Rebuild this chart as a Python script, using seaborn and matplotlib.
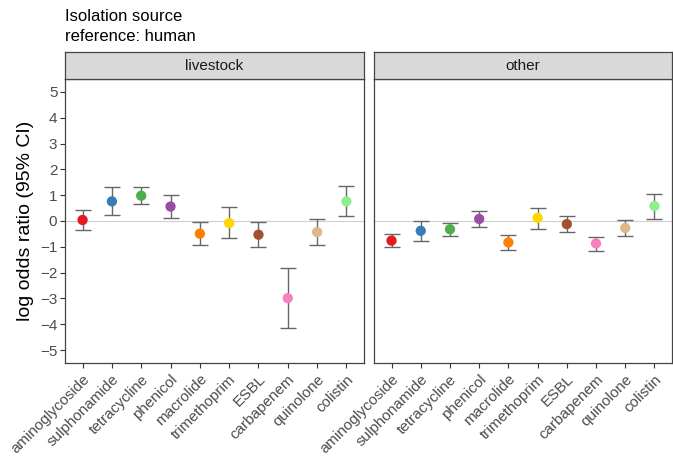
import matplotlib
matplotlib.use("Agg")
import matplotlib.pyplot as plt
import numpy as np
import pandas as pd
import seaborn as sns

# ---- data ----
drugs = ["aminoglycoside", "sulphonamide", "tetracycline", "phenicol", "macrolide",
         "trimethoprim", "ESBL", "carbapenem", "quinolone", "colistin"]
colors = ["#E41A1C", "#377EB8", "#4DAF4A", "#984EA3", "#FF7F00",
          "#FFD700", "#A0522D", "#F781BF", "#DEB887", "#90EE90"]
panels = ["livestock", "other"]

livestock_est = [0.04, 0.76, 0.98, 0.56, -0.49, -0.08, -0.53, -2.99, -0.43, 0.76]
livestock_lo = [-0.34, 0.22, 0.66, 0.12, -0.94, -0.66, -1.02, -4.14, -0.94, 0.18]
livestock_hi = [0.44, 1.31, 1.31, 1.01, -0.04, 0.53, -0.04, -1.82, 0.08, 1.35]

other_est = [-0.76, -0.38, -0.32, 0.08, -0.83, 0.12, -0.12, -0.87, -0.27, 0.58]
other_lo = [-1.02, -0.76, -0.58, -0.22, -1.11, -0.30, -0.43, -1.15, -0.58, 0.09]
other_hi = [-0.49, 0.01, -0.08, 0.39, -0.54, 0.50, 0.18, -0.61, 0.04, 1.05]

frames = []
for name, est, lo, hi in [("livestock", livestock_est, livestock_lo, livestock_hi),
                          ("other", other_est, other_lo, other_hi)]:
    frames.append(pd.DataFrame({"source": name, "drug": drugs, "est": est, "lo": lo, "hi": hi}))
df = pd.concat(frames, ignore_index=True)

sns.set_theme(style="white")
plt.rcParams["font.family"] = ["Liberation Sans", "DejaVu Sans"]

fig = plt.figure(figsize=(6.73, 4.57), dpi=100)

W, H = 673, 457
def box(x0, y0, x1, y1):
    return [x0 / W, 1 - y1 / H, (x1 - x0) / W, (y1 - y0) / H]

panel_x = [(65, 364), (374, 672)]
border = "#444444"
palette = dict(zip(drugs, colors))

for i, (name, (x0, x1)) in enumerate(zip(panels, panel_x)):
    ax = fig.add_axes(box(x0, 79, x1, 363))
    sub = df[df["source"] == name]
    ax.axhline(0, color="#CFCFCF", lw=0.8, zorder=1)
    pos = np.arange(len(drugs))
    ax.errorbar(pos, sub["est"], yerr=[sub["est"] - sub["lo"], sub["hi"] - sub["est"]],
                fmt="none", ecolor="#666666", elinewidth=1.0, capsize=6, capthick=1.0, zorder=2)
    sns.scatterplot(data=sub, x="drug", y="est", hue="drug", palette=palette, s=55,
                    edgecolor="none", legend=False, ax=ax, zorder=3)
    ax.set_xlim(-0.6, len(drugs) - 0.4)
    ax.set_ylim(-5.5, 5.5)
    ax.set_xticks(pos)
    ax.set_xticklabels(drugs, rotation=45, ha="right", rotation_mode="anchor",
                       fontsize=11, color="#4D4D4D")
    ax.set_yticks(range(-5, 6))
    if i == 0:
        ax.set_yticklabels([str(v).replace("-", "\u2212") for v in range(-5, 6)],
                           fontsize=11, color="#4D4D4D")
        ax.set_ylabel("log odds ratio (95% CI)", fontsize=14, color="black")
        ax.tick_params(axis="y", length=3.5, width=0.8, color="#333333", left=True, pad=2)
    else:
        ax.set_yticklabels([])
        ax.set_ylabel("")
        ax.tick_params(axis="y", left=False)
    ax.tick_params(axis="x", length=3.5, width=0.8, color="#333333", bottom=True, pad=3)
    ax.set_xlabel("")
    for s in ax.spines.values():
        s.set_color(border)
        s.set_linewidth(0.9)

    # facet strip
    sax = fig.add_axes(box(x0, 52, x1, 79))
    sax.set_facecolor("#D9D9D9")
    sax.set_xticks([])
    sax.set_yticks([])
    for s in sax.spines.values():
        s.set_color(border)
        s.set_linewidth(0.9)
    sax.text(0.5, 0.5, name, ha="center", va="center", fontsize=11,
             color="#1A1A1A", transform=sax.transAxes)

fig.text(65 / W, 1 - 9 / H, "Isolation source\nreference: human", ha="left", va="top",
         fontsize=12, color="black", linespacing=1.4)

fig.savefig("out.png", dpi=100)
